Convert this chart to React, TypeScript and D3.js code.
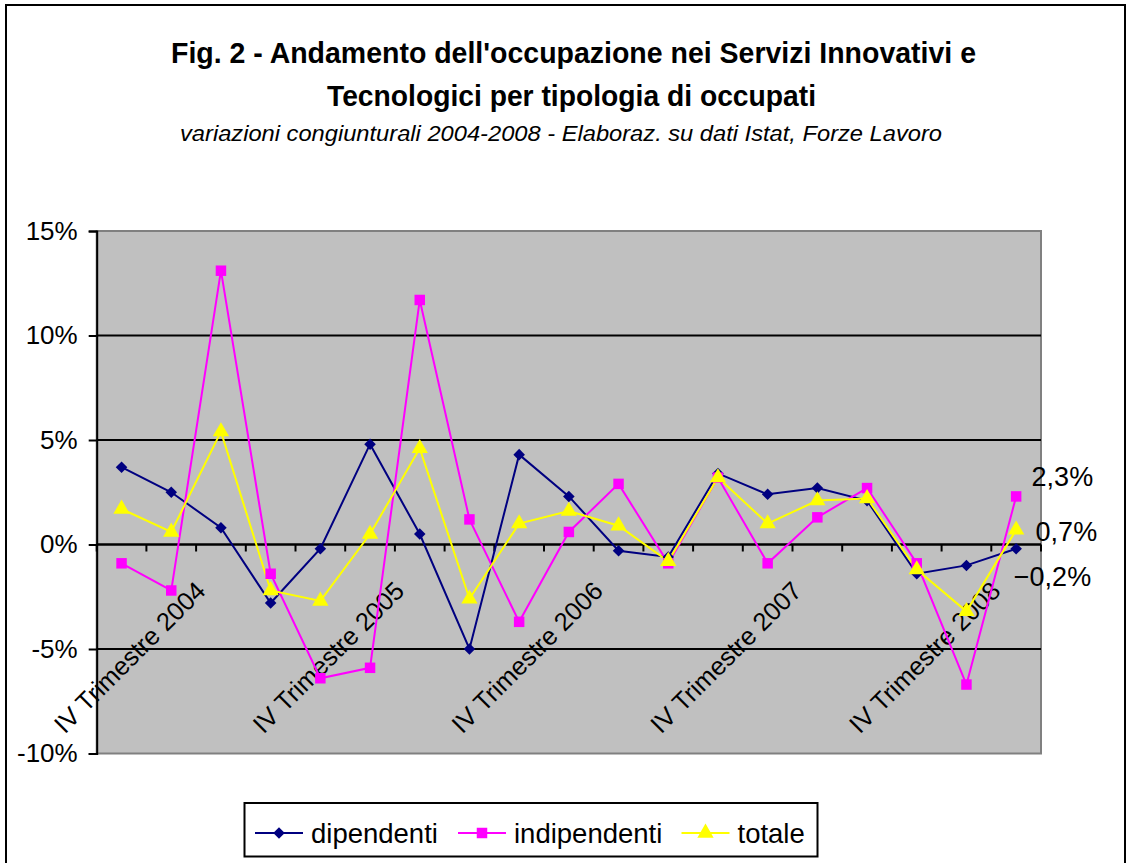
import { useEffect, useRef } from "react"
import * as d3 from "d3"

const categories = [
  "", "", "IV Trimestre 2004", "", "", "", "IV Trimestre 2005", "", "", "",
  "IV Trimestre 2006", "", "", "", "IV Trimestre 2007", "", "", "", "IV Trimestre 2008",
]
const dipendenti = [3.7, 2.5, 0.8, -2.8, -0.2, 4.8, 0.5, -5.0, 4.3, 2.3, -0.3, -0.6, 3.4, 2.4, 2.7, 2.1, -1.4, -1.0, -0.2]
const indipendenti = [-0.9, -2.2, 13.1, -1.4, -6.4, -5.9, 11.7, 1.2, -3.7, 0.6, 2.9, -0.9, 3.2, -0.9, 1.3, 2.7, -0.9, -6.7, 2.3]
const totale = [1.7, 0.6, 5.4, -2.2, -2.7, 0.5, 4.6, -2.6, 1.0, 1.6, 0.9, -0.8, 3.2, 1.0, 2.1, 2.2, -1.2, -3.2, 0.7]
const yTicks = [-10, -5, 0, 5, 10, 15]
const seriesNames = ["dipendenti", "indipendenti", "totale"]
const seriesColors = ["#000080", "#FF00FF", "#FFFF00"]

const W = 1127
const H = 863
const FONT = "Arial, 'Liberation Sans', sans-serif"

const App = () => {
  const ref = useRef<SVGSVGElement>(null)

  useEffect(() => {
    const svg = d3.select(ref.current)
    svg.selectAll("*").remove()

    const left = 96.7, right = 1041, top = 231, bottom = 753.5
    const x = d3.scaleBand().domain(categories.map((_, i) => String(i))).range([left, right])
    const y = d3.scaleLinear().domain([-10, 15]).range([bottom, top])
    const cx = (i: number) => (x(String(i)) as number) + x.bandwidth() / 2

    // frame
    svg.append("path").attr("d", `M6,${H + 5}V5H1125V${H + 5}`)
      .attr("fill", "none").attr("stroke", "#000").attr("stroke-width", 2)

    // titles
    svg.append("text").attr("x", 573.5).attr("y", 63).attr("text-anchor", "middle")
      .attr("font-family", FONT).attr("font-weight", "bold").attr("font-size", 30)
      .attr("textLength", 805).attr("lengthAdjust", "spacingAndGlyphs")
      .text("Fig. 2 - Andamento dell'occupazione nei Servizi Innovativi e")
    svg.append("text").attr("x", 571.5).attr("y", 106).attr("text-anchor", "middle")
      .attr("font-family", FONT).attr("font-weight", "bold").attr("font-size", 30)
      .attr("textLength", 489).attr("lengthAdjust", "spacingAndGlyphs")
      .text("Tecnologici per tipologia di occupati")
    svg.append("text").attr("x", 561).attr("y", 141).attr("text-anchor", "middle")
      .attr("font-family", FONT).attr("font-style", "italic").attr("font-size", 21.5)
      .attr("textLength", 762).attr("lengthAdjust", "spacingAndGlyphs")
      .text("variazioni congiunturali 2004-2008 - Elaboraz. su dati Istat, Forze Lavoro")

    // plot area
    svg.append("rect").attr("x", left).attr("y", top).attr("width", right - left).attr("height", bottom - top)
      .attr("fill", "#C0C0C0").attr("stroke", "#808080").attr("stroke-width", 2)

    // gridlines
    svg.append("g").selectAll("line").data(yTicks.filter(t => t > -10 && t < 15)).join("line")
      .attr("x1", left).attr("x2", right).attr("y1", d => y(d)).attr("y2", d => y(d))
      .attr("stroke", "#000").attr("stroke-width", 2)

    // y axis
    const yAxis = d3.axisLeft(y).tickValues(yTicks).tickSize(8).tickPadding(11)
      .tickFormat(d => `${d}%`)
    const gy = svg.append("g").attr("transform", `translate(${left},0)`).call(yAxis)
    gy.select(".domain").attr("stroke", "#000").attr("stroke-width", 2)
    gy.selectAll(".tick line").attr("stroke", "#000").attr("stroke-width", 2)
    gy.selectAll(".tick text").attr("font-family", FONT).attr("font-size", 26).attr("fill", "#000")

    // x axis at 0
    svg.append("line").attr("x1", left).attr("x2", right).attr("y1", y(0)).attr("y2", y(0))
      .attr("stroke", "#000").attr("stroke-width", 2)
    svg.append("g").selectAll("line").data(d3.range(categories.length + 1)).join("line")
      .attr("x1", i => left + i * x.bandwidth()).attr("x2", i => left + i * x.bandwidth())
      .attr("y1", y(0)).attr("y2", y(0) + 7).attr("stroke", "#000").attr("stroke-width", 2)

    svg.append("g").selectAll("text").data(categories.map((c, i) => ({ c, i })).filter(d => d.c))
      .join("text")
      .attr("transform", d => `translate(${cx(d.i) - 14},${y(0) + 48}) rotate(-45)`)
      .attr("text-anchor", "end").attr("font-family", FONT).attr("font-size", 25.5)
      .text(d => d.c)

    const series = [dipendenti, indipendenti, totale]
    const line = d3.line<number>().x((_, i) => cx(i)).y(d => y(d))
    series.forEach((s, k) => {
      svg.append("path").datum(s).attr("d", line).attr("fill", "none")
        .attr("stroke", seriesColors[k]).attr("stroke-width", 2)
    })

    const symbols = [
      d3.symbol().type(d3.symbolDiamond2).size(85),
      d3.symbol().type(d3.symbolSquare).size(110),
      d3.symbol().type(d3.symbolTriangle).size(115),
    ]
    series.forEach((s, k) => {
      svg.append("g").selectAll("path").data(s).join("path")
        .attr("transform", (d, i) => `translate(${cx(i)},${y(d)})`)
        .attr("d", symbols[k]() as string).attr("fill", seriesColors[k])
    })

    // data labels on last point
    const last = categories.length - 1
    const labelDy = [37, -10, 11]
    const labelDx = [75, 77, 81]
    const fmt = (v: number) => `${d3.format(".1f")(v).replace(".", ",")}%`
    series.forEach((s, k) => {
      svg.append("text").attr("x", cx(last) + labelDx[k]).attr("y", y(s[last]) + labelDy[k])
        .attr("text-anchor", "end")
        .attr("font-family", FONT).attr("font-size", 27).text(fmt(s[last]))
    })

    // legend
    const lg = svg.append("g")
    lg.append("rect").attr("x", 244.5).attr("y", 803).attr("width", 573).attr("height", 53.5)
      .attr("fill", "#fff").attr("stroke", "#000").attr("stroke-width", 2)
    const legendX = [255, 458, 681.5]
    seriesNames.forEach((n, k) => {
      const lx = legendX[k]
      lg.append("line").attr("x1", lx).attr("x2", lx + 48).attr("y1", 833).attr("y2", 833)
        .attr("stroke", seriesColors[k]).attr("stroke-width", 2)
      lg.append("path").attr("transform", `translate(${lx + 24},833)`)
        .attr("d", symbols[k]() as string).attr("fill", seriesColors[k])
      lg.append("text").attr("x", lx + 56).attr("y", 843).attr("font-family", FONT)
        .attr("font-size", 27.5).text(n)
    })
  }, [])

  return <svg ref={ref} width={W} height={H} style={{ display: "block", position: "absolute", left: 0, top: 0, background: "#fff" }} />
}

export default App
